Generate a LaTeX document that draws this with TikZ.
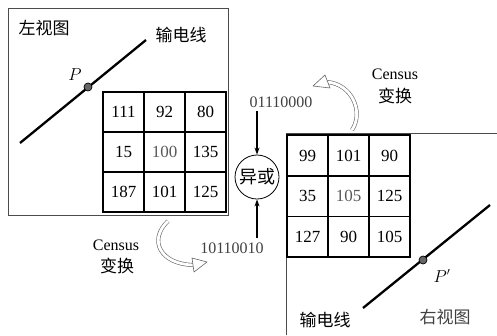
\documentclass[tikz,border=0pt]{standalone}
\usepackage{fontspec}
\setmainfont{Liberation Serif}
\newfontfamily\cjk{Noto Sans CJK SC}
\usetikzlibrary{arrows.meta}
\begin{document}
\begin{tikzpicture}[x=1pt,y=-1pt,
  frame/.style={draw=black!70,line width=0.8pt},
  gridline/.style={draw=black,line width=1.3pt},
  num/.style={font=\fontsize{17}{17}\selectfont,inner sep=0pt},
  numl/.style={num,text=black!65},
  bin/.style={font=\fontsize{16}{16}\selectfont,text=black!75,inner sep=0pt},
  cn/.style={font=\cjk\fontsize{17}{17}\selectfont,inner sep=0pt},
  lbl/.style={font=\fontsize{16}{16}\selectfont,inner sep=0pt},
  wire/.style={line width=2.3pt,black},
  dot/.style={circle,draw=black,fill=black!60,line width=0.7pt,minimum size=8pt,inner sep=0pt},
  hollow/.style={draw=black!60,double=white,double distance=2.8pt,line width=0.6pt},
  headshape/.style={draw=black!60,fill=white,line width=0.6pt,line join=round},
  feed/.style={-{Stealth[length=7pt,width=5pt]},line width=1.3pt}
]
\useasboundingbox (0,0) rectangle (497,335);
% left view frame
\draw[frame] (8,8) rectangle (228,215);
\node[cn] (lv) at (44,28) {左视图};
\coordinate (la) at (20,143);
\coordinate (lb) at (146,40);
\draw[wire] (la) -- (lb);
\node[dot] (p) at (88,87) {};
\node[lbl,font=\itshape\fontsize{16}{16}\selectfont] (plab) at (75,75) {$P$};
\node[cn] (lw) at (181,35) {输电线};
% left grid
\draw[gridline] (103,92) rectangle (226,212);
\draw[gridline] (144,92) -- (144,212) (185,92) -- (185,212) (103,132) -- (226,132) (103,172) -- (226,172);
\node[num] (l11) at (123.5,112) {111};
\node[num] (l12) at (164.5,112) {92};
\node[num] (l13) at (205.5,112) {80};
\node[num] (l21) at (123.5,152) {15};
\node[numl] (l22) at (164.5,152) {100};
\node[num] (l23) at (205.5,152) {135};
\node[num] (l31) at (123.5,192) {187};
\node[num] (l32) at (164.5,192) {101};
\node[num] (l33) at (205.5,192) {125};
% right view frame
\draw[frame] (286,335) -- (286,133) -- (497,133);
\draw[gridline] (287,135) rectangle (410,257);
\draw[gridline] (328,135) -- (328,257) (369,135) -- (369,257) (287,176) -- (410,176) (287,216.5) -- (410,216.5);
\node[num] (r11) at (307.5,155.5) {99};
\node[num] (r12) at (348.5,155.5) {101};
\node[num] (r13) at (389.5,155.5) {90};
\node[num] (r21) at (307.5,196) {35};
\node[numl] (r22) at (348.5,196) {105};
\node[num] (r23) at (389.5,196) {125};
\node[num] (r31) at (307.5,237) {127};
\node[num] (r32) at (348.5,237) {90};
\node[num] (r33) at (389.5,237) {105};
\coordinate (ra) at (363,308);
\coordinate (rb) at (490,205);
\draw[wire] (ra) -- (rb);
\node[dot] (pp) at (423,260) {};
\node[lbl] (pplab) at (442,276) {$P'$};
\node[cn] (rw) at (325,320) {输电线};
\node[cn,text=black!75] (rv) at (445,317) {右视图};
% XOR
\node[circle,draw=black,line width=0.8pt,minimum size=44pt,inner sep=0pt,font=\cjk\fontsize{18}{18}\selectfont] (xor) at (257,177) {异或};
\node[bin] (b1) at (281,102) {01110000};
\node[bin] (b2) at (232,248) {10110010};
\coordinate (t1) at (257,111);
\coordinate (t2) at (257,238);
\draw[feed] (t1) -- (xor.north);
\draw[feed] (t2) -- (xor.south);
% Census labels
\node[lbl] (c1) at (116,245) {Census};
\node[cn] (c1b) at (117,266) {变换};
\node[lbl] (c2) at (395,74) {Census};
\node[cn] (c2b) at (395,96) {变换};
% hollow curved arrows
\coordinate (h1s) at (168,221);
\coordinate (h1e) at (193,265);
\draw[hollow] (h1s) .. controls (148,240) and (160,264) .. (h1e);
\draw[headshape] (192,258) -- (207,262) -- (194,272) -- cycle;
\coordinate (h2s) at (352,130);
\coordinate (h2e) at (327,82);
\draw[hollow] (h2s) .. controls (364,112) and (352,84) .. (h2e);
\draw[headshape] (325,75) -- (313,86) -- (330,88) -- cycle;
\end{tikzpicture}
\end{document}
